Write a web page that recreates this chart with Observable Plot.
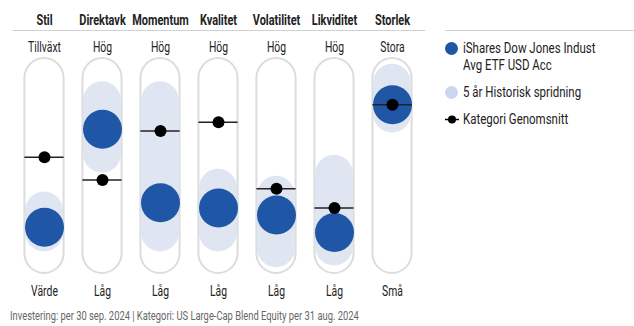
<!DOCTYPE html>
<html>
<head>
<meta charset="utf-8">
<script src="https://cdn.jsdelivr.net/npm/d3@7"></script>
<script src="https://cdn.jsdelivr.net/npm/@observablehq/plot@0.6"></script>
<style>
  html, body { margin: 0; padding: 0; background: #fff; }
  body { width: 634px; height: 326px; overflow: hidden; position: relative;
         font-family: Roboto, "DejaVu Sans Condensed", sans-serif; color: #222; }
  #chart { position: absolute; left: 0; top: 0; }
  #legend { position: absolute; left: 445px; top: 30px; width: 189px; border-top: 1px solid #d0d0d0; font-size: 14px; }
  .item { position: relative; padding-left: 18px; line-height: 17px; white-space: nowrap; }
  .sw { position: absolute; left: 0; }
  .cx { display: inline-block; transform-origin: 0 50%; }
  #footer { position: absolute; left: 10px; top: 308px; font-size: 13px; color: #666; white-space: nowrap; }
</style>
</head>
<body>
<div id="chart"></div>
<div id="legend">
  <div class="item" style="margin-top:9px"><span class="sw" style="top:2px;width:13px;height:13px;border-radius:50%;background:#1f56a6"></span><span class="cx leg">iShares Dow Jones Indust<br>Avg ETF USD Acc</span></div>
  <div class="item" style="margin-top:10px"><span class="sw" style="top:2px;width:13px;height:13px;border-radius:50%;background:#c9d6ec"></span><span class="cx leg">5 år Historisk spridning</span></div>
  <div class="item" style="margin-top:10px"><svg class="sw" width="14" height="17" style="top:0"><line x1="0" x2="14" y1="8.5" y2="8.5" stroke="#000" stroke-width="1.5"/><circle cx="7" cy="8.5" r="4" fill="#000"/></svg><span class="cx leg">Kategori Genomsnitt</span></div>
</div>
<div id="footer"><span class="cx foot">Investering: per 30 sep. 2024 | Kategori: US Large-Cap Blend Equity per 31 aug. 2024</span></div>
<script>
// Data
const categories = ["Stil", "Direktavk", "Momentum", "Kvalitet", "Volatilitet", "Likviditet", "Storlek"];
const highLabels = ["Tillväxt", "Hög", "Hög", "Hög", "Hög", "Hög", "Stora"];
const lowLabels  = ["Värde", "Låg", "Låg", "Låg", "Låg", "Låg", "Små"];
const fundValues     = [15, 71, 29, 26, 22, 12, 85];
const categoryAvg    = [55, 42, 70, 75, 37, 26, 85];
const rangeLow       = [12, 57, 12, 12, 3, 4, 80];
const rangeHigh      = [24, 87, 87, 37, 33, 45, 97];
const scaleMin = 0, scaleMax = 100;

const rows = categories.map((c, i) => ({
  cat: c, high: highLabels[i], low: lowLabels[i],
  fund: fundValues[i], avg: categoryAvg[i], lo: rangeLow[i], hi: rangeHigh[i]
}));

const font = "Roboto, DejaVu Sans Condensed, sans-serif";
const R = 19.5;

const chart = Plot.plot({
  width: 430,
  height: 302,
  marginLeft: 12.6,
  marginRight: 5.6,
  marginTop: 30,
  marginBottom: 0,
  style: { fontFamily: font, fontSize: "14px", color: "#222", background: "transparent" },
  x: { domain: categories, padding: 0, axis: null },
  y: { domain: [scaleMin, scaleMax], range: [253, 78], axis: null },
  marks: [
    Plot.frame({ anchor: "top", stroke: "#d0d0d0" }),
    Plot.axisX({ anchor: "top", label: null, tickSize: 0, tickPadding: 6, fontWeight: "bold", fontSize: 14, className: "hdr" }),
    // pill outlines
    Plot.barY(rows, { x: "cat", y1: () => scaleMin, y2: () => scaleMax,
      insetLeft: 9.4, insetRight: 9.4, insetTop: -20, insetBottom: -20, rx: 20,
      fill: "white", stroke: "#dcdcdc", strokeWidth: 2 }),
    // historical spread
    Plot.barY(rows, { x: "cat", y1: "lo", y2: "hi",
      insetLeft: 9.9, insetRight: 9.9, insetTop: -R, insetBottom: -R, rx: R,
      fill: "#e0e6f1" }),
    // fund
    Plot.dot(rows, { x: "cat", y: "fund", r: R, fill: "#1f56a6" }),
    // category average
    Plot.tickY(rows, { x: "cat", y: "avg", insetLeft: 9.4, insetRight: 9.4, stroke: "#222", strokeWidth: 1.5 }),
    Plot.dot(rows, { x: "cat", y: "avg", r: 6, fill: "#000" }),
    // labels
    Plot.text(rows, { x: "cat", y: () => scaleMax, text: "high", dy: -31, fontSize: 14, fill: "#222" }),
    Plot.text(rows, { x: "cat", y: () => scaleMin, text: "low", dy: 38, fontSize: 14, fill: "#222" })
  ]
});
document.getElementById("chart").appendChild(chart);

// condense text (the reference uses a condensed face)
function squeeze(el, k) {
  const len = el.getComputedTextLength();
  el.setAttribute("textLength", (len * k).toFixed(2));
  el.setAttribute("lengthAdjust", "spacingAndGlyphs");
}
chart.querySelectorAll("text").forEach(t => {
  const isHdr = t.closest(".hdr");
  squeeze(t, isHdr ? 0.78 : 0.74);
});
document.querySelectorAll(".cx.leg").forEach(s => s.style.transform = "scaleX(0.82)");
document.querySelectorAll(".cx.foot").forEach(s => s.style.transform = "scaleX(0.72)");
</script>
</body>
</html>
